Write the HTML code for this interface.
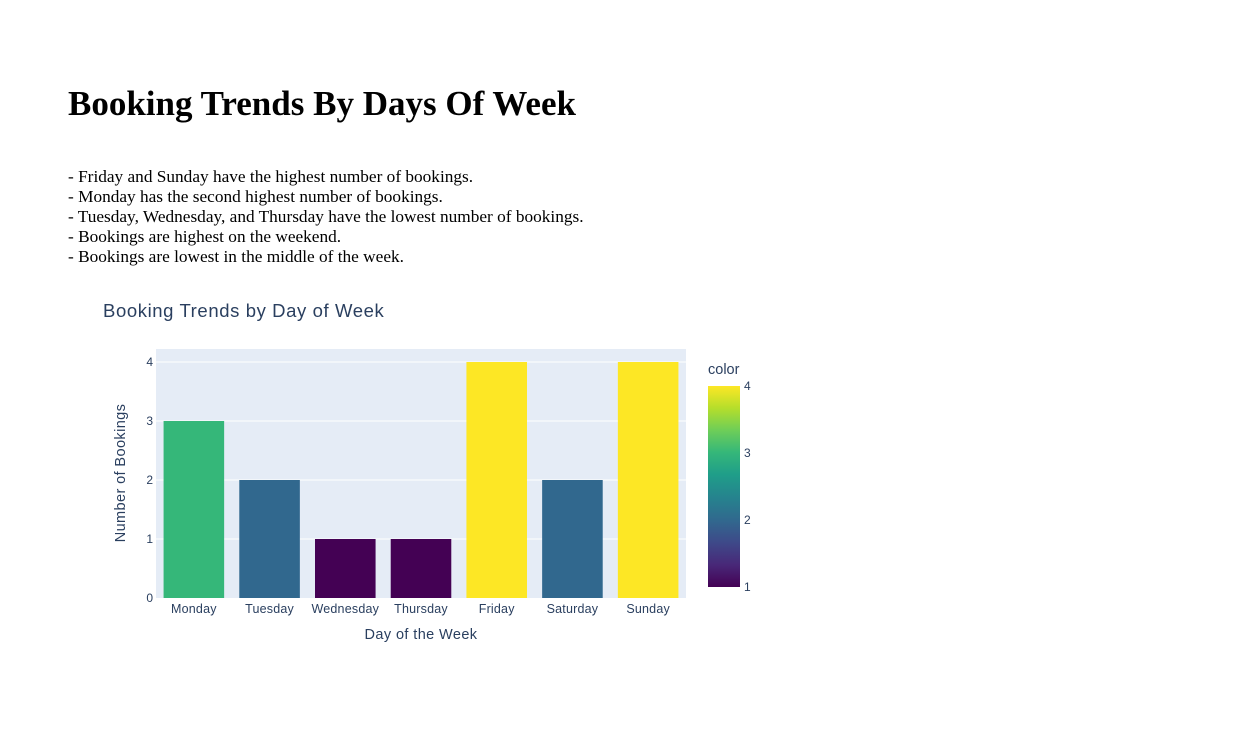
<!DOCTYPE html>
<html><head><meta charset="utf-8">
<style>
body{margin:0;background:#fff;width:1241px;height:739px;overflow:hidden;position:relative;font-family:"Liberation Serif",serif}
h1{position:absolute;left:68px;top:84px;margin:0;font-size:35px;font-weight:bold;line-height:40px}
.notes{position:absolute;left:68px;top:167px;font-size:17.3px;line-height:20px}
svg{position:absolute;left:0;top:0}
svg text{font-family:"Liberation Sans",sans-serif}
</style></head><body>
<h1>Booking Trends By Days Of Week</h1>
<div class="notes">
<div>- Friday and Sunday have the highest number of bookings.</div>
<div>- Monday has the second highest number of bookings.</div>
<div>- Tuesday, Wednesday, and Thursday have the lowest number of bookings.</div>
<div>- Bookings are highest on the weekend.</div>
<div>- Bookings are lowest in the middle of the week.</div>
</div>
<svg id="chart" width="1241" height="739">
<defs><linearGradient id="vir" x1="0" y1="1" x2="0" y2="0">
<stop offset="0" stop-color="#440154"/><stop offset="0.11" stop-color="#482878"/><stop offset="0.22" stop-color="#3e4989"/><stop offset="0.33" stop-color="#31688e"/><stop offset="0.44" stop-color="#26828e"/><stop offset="0.56" stop-color="#1f9e89"/><stop offset="0.67" stop-color="#35b779"/><stop offset="0.78" stop-color="#6ece58"/><stop offset="0.89" stop-color="#b5de2b"/><stop offset="1" stop-color="#fde725"/></linearGradient></defs>
</svg>
<script>
const categories=["Monday","Tuesday","Wednesday","Thursday","Friday","Saturday","Sunday"];
const bookings=[3,2,1,1,4,2,4];
const yTicks=[0,1,2,3,4];
const cbTicks=[1,2,3,4];
const NS="http://www.w3.org/2000/svg";
const svg=document.getElementById('chart');
const X0=156,X1=686,Y0=598,YT=349;
const band=(X1-X0)/categories.length;
const y=v=>Y0-v*59;
const xc=i=>X0+band*(i+0.5);
function mk(t,a,txt){const e=document.createElementNS(NS,t);for(const k in a)e.setAttribute(k,a[k]);if(txt!==undefined)e.textContent=txt;svg.appendChild(e);return e;}
function vir(v){const s=[[68,1,84],[72,40,120],[62,73,137],[49,104,142],[38,130,142],[31,158,137],[53,183,121],[110,206,88],[181,222,43],[253,231,37]];
 let t=(v-1)/3*9;const i=Math.min(8,Math.floor(t));const f=t-i;const c=s[i].map((a,k)=>Math.round(a+(s[i+1][k]-a)*f));return `rgb(${c})`;}
const bg=mk('rect',{x:X0,y:YT,width:X1-X0,height:Y0-YT,fill:'#e5ecf6'});


yTicks.forEach(t=>{
 if(t>0){const g=mk('line',{x1:X0,x2:X1,y1:y(t),y2:y(t),stroke:'#fff','stroke-width':1});}
 const l=mk('text',{x:X0-3,y:y(t)+4,'text-anchor':'end','font-size':12,fill:'#2a3f5f'},t);
 
 
});
categories.forEach((c,i)=>{
 const w=band*0.8;
 const b=mk('rect',{x:xc(i)-w/2,y:y(bookings[i]),width:w,height:Y0-y(bookings[i]),fill:vir(bookings[i])});
 
 
 const l=mk('text',{x:xc(i),y:Y0+15,'text-anchor':'middle','font-size':12.5,fill:'#2a3f5f','letter-spacing':0.2},c);
 
 
});
const t=mk('text',{x:103,y:317,'font-size':18.5,fill:'#2a3f5f','letter-spacing':0.6},'Booking Trends by Day of Week');


const xt=mk('text',{x:421,y:639,'text-anchor':'middle','font-size':14.5,fill:'#2a3f5f','letter-spacing':0.4},'Day of the Week');


const yt=mk('text',{x:125,y:473,'text-anchor':'middle','font-size':14.5,fill:'#2a3f5f','letter-spacing':0.4,transform:'rotate(-90 125 473)'},'Number of Bookings');


const CB0=587,CB1=386,cy=v=>CB0-(v-1)/3*(CB0-CB1);
const cb=mk('rect',{x:708,y:CB1,width:32,height:CB0-CB1,fill:'url(#vir)'});


const ct=mk('text',{x:708,y:374,'font-size':14.5,fill:'#2a3f5f'},'color');


cbTicks.forEach(v=>{
 const l=mk('text',{x:744,y:cy(v)+4,'font-size':12,fill:'#2a3f5f'},v);
 
 
});
</script>
</body></html>
